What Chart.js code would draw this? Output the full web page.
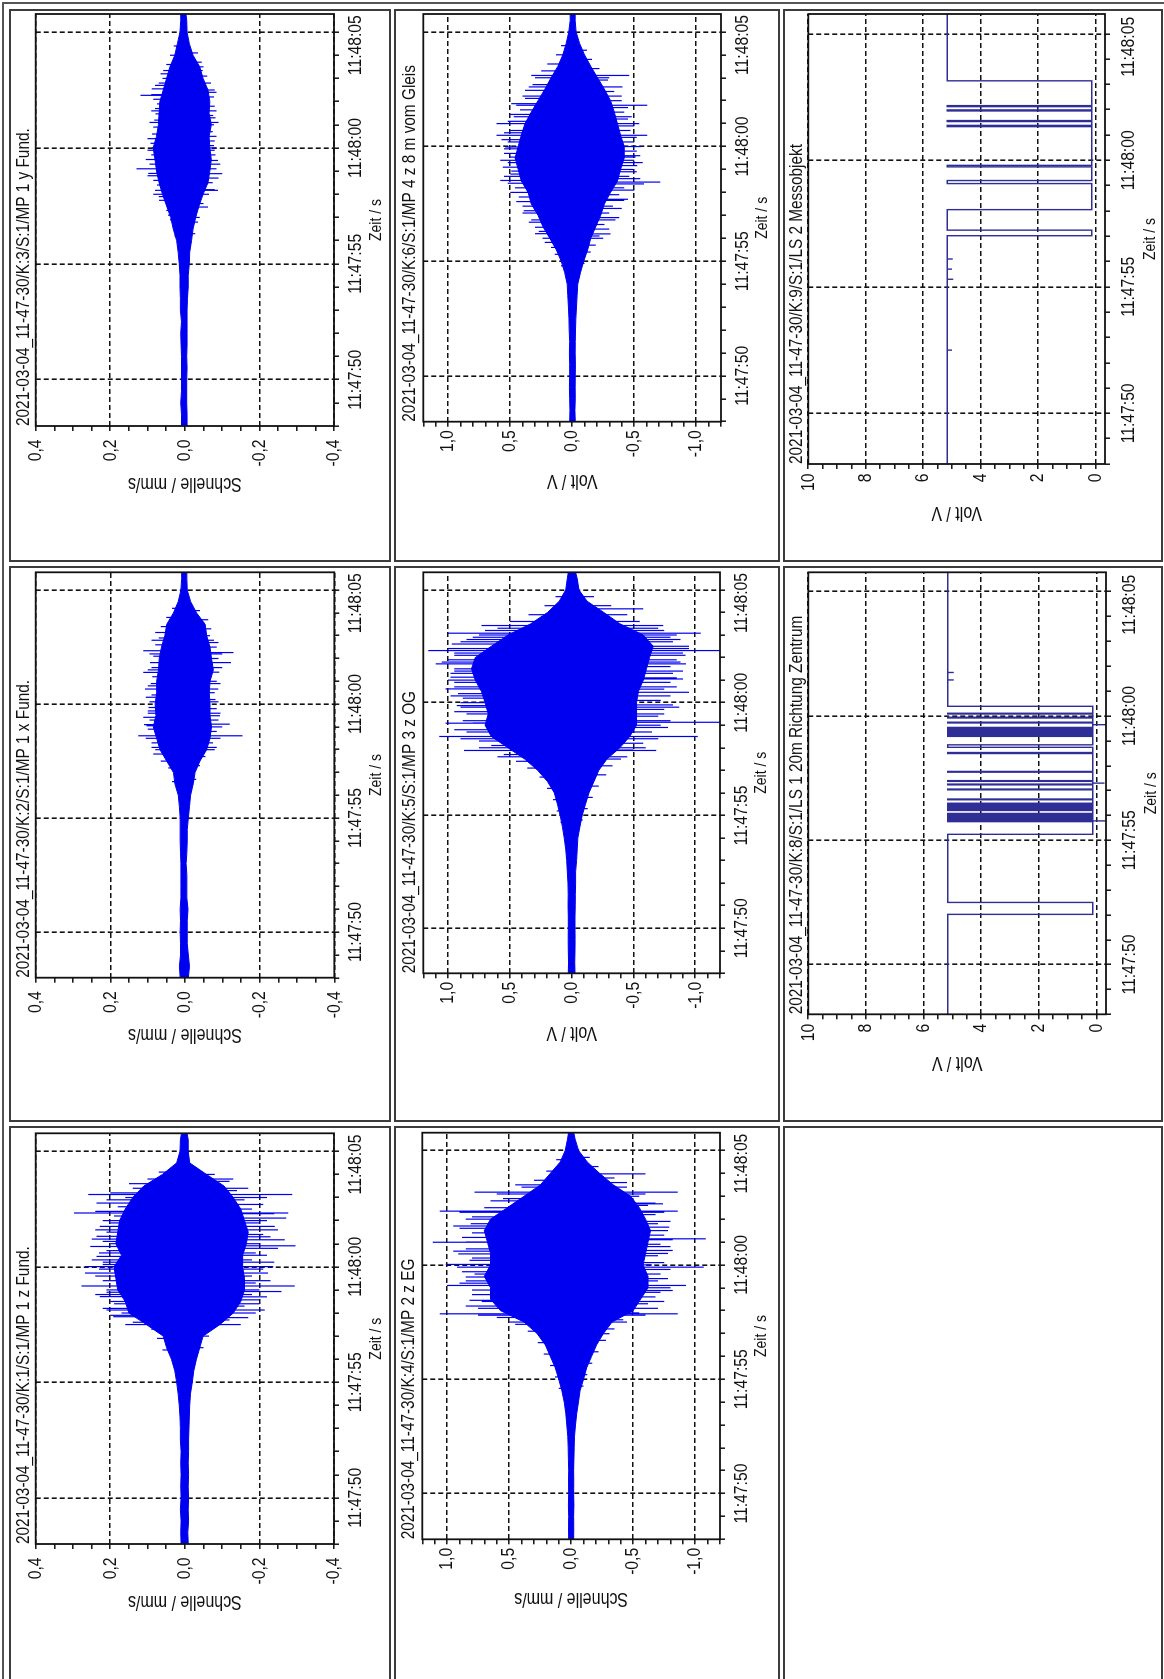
<!DOCTYPE html>
<html>
<head>
<meta charset="utf-8">
<script src="https://cdn.jsdelivr.net/npm/chart.js@4.4.1/dist/chart.umd.min.js"></script>
<style>
    html, body { margin: 0; padding: 0; background: #fff; }
    body { width: 1164px; height: 1679px; position: relative; overflow: hidden; }
    .frame { position: absolute; left: 2px; top: 2px; width: 1180px; height: 1700px;
             border-left: 2px solid #555; border-top: 2px solid #555; }
    .cell { position: absolute; box-sizing: border-box; border: 2px solid #3c3c3c; overflow: hidden; }
    .cell canvas { position: absolute; left: 0; top: 0; transform-origin: 0 0; }
</style>
</head>
<body>
<div class="frame"></div>
<script>
// ===============================
// AXIS TICKS
// ===============================

// seconds after 11:47:30 (start of the recording)
const timeTickValues = [20, 25, 30, 35];
const timeTickLabels = ['11:47:50', '11:47:55', '11:48:00', '11:48:05'];

const mmsTickValues = [0.4, 0.2, 0, -0.2, -0.4];
const mmsTickLabels = ['0,4', '0,2', '0,0', '-0,2', '-0,4'];

const wideTickValues = [1, 0.5, 0, -0.5, -1];
const wideTickLabels = ['1,0', '0,5', '0,0', '-0,5', '-1,0'];

const lsTickValues = [10, 8, 6, 4, 2, 0];
const lsTickLabels = ['10', '8', '6', '4', '2', '0'];

// ===============================
// ENVELOPES
// ===============================

const envTime = [18, 18.5, 19, 19.5, 20, 20.5, 21, 21.5, 22, 22.5, 23, 23.5, 24, 24.5,
    25, 25.5, 26, 26.5, 27, 27.5, 28, 28.5, 29, 29.5, 30, 30.5, 31, 31.5, 32, 32.5,
    33, 33.5, 34, 34.5, 35, 35.5, 35.78];

// K:3  MP 1 y Fund.
const ch3Upper = [.009, .009, .011, .009, .009, .009, .009, .010, .011, .009, .012, .012, .013, .013,
    .015, .018, .022, .031, .038, .049, .060, .069, .076, .080, .085, .076, .071, .069, .067, .058,
    .049, .040, .027, .020, .013, .011, .011];
const ch3Lower = [-.006, -.006, -.005, -.005, -.005, -.006, -.005, -.006, -.006, -.006, -.006, -.007, -.009, -.009,
    -.012, -.013, -.018, -.022, -.029, -.038, -.049, -.062, -.067, -.071, -.067, -.065, -.071, -.065, -.067, -.062,
    -.049, -.040, -.022, -.012, -.006, -.005, -.003];
const ch3SpikeTime = [32.27, 32.55, 33.34, 29.1, 30.0, 28.9, 28.17, 27.74, 30.9, 31.47, 29.7, 31.9, 33.0, 27.1,
    26.2, 26.9, 27.3, 27.9, 28.4, 28.6, 29.3, 29.9, 30.2, 30.6, 31.2, 31.7, 32.1, 32.8, 33.2, 33.6, 34.0, 34.4,
    28.0, 28.8, 29.5, 30.4, 31.1, 31.6, 32.3, 32.7,
    28.89, 29.46, 31.4, 32.5, 28.17, 33.34, 27.45, 30.3, 29.9, 31.0, 33.7, 26.8,
    26.3, 27.0, 27.6, 28.0, 28.5, 29.1, 29.7, 30.1, 30.7, 31.3, 31.8, 32.2, 32.8, 33.1, 33.5, 34.1,
    28.2, 28.7, 29.3, 30.0, 30.5, 31.1, 31.6, 32.4];
const ch3SpikeValue = [.119, .089, .058, .13, .089, .098, .08, .069, .085, .079, .09, .075, .06, .045,
    .028, .04, .05, .07, .075, .085, .095, .1, .092, .088, .082, .08, .085, .07, .065, .05, .04, .03,
    .085, .1, .105, .1, .095, .09, .09, .08,
    -.10, -.089, -.076, -.08, -.089, -.048, -.062, -.08, -.08, -.078, -.045, -.035,
    -.028, -.04, -.05, -.065, -.075, -.085, -.082, -.078, -.075, -.082, -.08, -.078, -.07, -.06, -.05, -.035,
    -.08, -.09, -.095, -.085, -.085, -.09, -.085, -.085];

// K:6  MP 4 z 8 m vom Gleis
const ch6Upper = [.020, .018, .020, .022, .020, .020, .022, .020, .024, .026, .030, .035, .040, .060,
    .088, .128, .180, .235, .275, .330, .355, .410, .435, .460, .435, .410, .380, .330, .275, .220,
    .170, .115, .075, .048, .027, .016, .016];
const ch6Lower = [-.025, -.022, -.025, -.024, -.025, -.026, -.024, -.025, -.027, -.030, -.035, -.040, -.045, -.067,
    -.093, -.125, -.150, -.190, -.230, -.260, -.310, -.365, -.390, -.420, -.420, -.390, -.365, -.340, -.310, -.260,
    -.205, -.150, -.100, -.060, -.032, -.024, -.024];
const ch6SpikeTime = [31.0, 30.49, 28.52, 28.93, 29.54, 31.87, 33.1, 32.45, 27.2, 26.48, 25.82, 29.98,
    24.8, 25.3, 25.6, 26.0, 26.3, 26.8, 27.4, 27.8, 28.2, 28.8, 29.3, 29.7, 30.2, 30.7, 31.3, 31.6, 32.1,
    32.7, 33.3, 33.6, 34.0, 34.4,
    26.2, 26.7, 27.1, 27.6, 28.0, 28.4, 28.7, 29.1, 29.4, 29.9, 30.3, 30.6, 31.1, 31.4, 31.8, 32.2, 32.6, 33.0,
    28.45, 28.37, 29.17, 30.49, 31.8, 31.0, 33.1, 32.6, 26.9, 27.65, 26.19, 29.54,
    24.9, 25.4, 25.7, 26.1, 26.6, 27.1, 27.4, 27.9, 28.2, 28.7, 29.0, 29.4, 29.8, 30.2, 30.7, 31.2, 31.5,
    32.0, 32.4, 32.9, 33.4, 33.8, 34.2,
    26.0, 26.4, 26.8, 27.3, 27.7, 28.1, 28.6, 28.9, 29.3, 29.6, 30.0, 30.4, 30.9, 31.3, 31.7, 32.2, 32.6, 33.0];
const ch6SpikeValue = [.61, .61, .58, .49, .51, .49, .33, .38, .39, .30, .22, .54,
    .09, .14, .17, .24, .27, .33, .40, .43, .46, .50, .52, .55, .52, .50, .47, .42, .38,
    .32, .25, .20, .13, .09,
    .3, .35, .4, .45, .5, .52, .55, .56, .58, .55, .57, .55, .52, .5, .45, .4, .35, .3,
    -.71, -.58, -.525, -.605, -.605, -.54, -.46, -.405, -.38, -.42, -.31, -.51,
    -.10, -.15, -.19, -.22, -.26, -.30, -.33, -.38, -.42, -.46, -.49, -.50, -.52, -.50, -.47, -.45, -.42,
    -.40, -.34, -.29, -.22, -.16, -.12,
    -.25, -.3, -.35, -.4, -.45, -.5, -.55, -.52, -.57, -.55, -.56, -.52, -.5, -.48, -.45, -.4, -.35, -.3];

// K:2  MP 1 x Fund.
const ch2Upper = [.013, .015, .012, .012, .013, .012, .013, .011, .011, .011, .011, .012, .013, .013,
    .013, .015, .018, .027, .031, .049, .067, .076, .085, .078, .080, .076, .076, .071, .069, .063,
    .054, .049, .031, .018, .011, .009, .009];
const ch2Lower = [-.009, -.012, -.009, -.006, -.006, -.006, -.008, -.005, -.005, -.005, -.003, -.005, -.006, -.006,
    -.009, -.012, -.015, -.022, -.027, -.040, -.058, -.067, -.071, -.067, -.067, -.065, -.067, -.076, -.071, -.067,
    -.058, -.054, -.031, -.015, -.006, -.005, -.005];
const ch2SpikeTime = [28.61, 32.34, 31.39, 29.85, 30.66, 29.42, 31.82, 33.14, 27.81, 29.05,
    26.6, 27.2, 27.5, 28.0, 28.3, 28.9, 29.3, 29.7, 30.1, 30.4, 30.9, 31.2, 31.6, 32.1, 32.6, 32.9, 33.4, 33.8, 34.2,
    28.1, 28.5, 29.1, 29.6, 30.3, 30.8, 31.5, 32.2, 32.8,
    28.61, 32.26, 31.82, 29.12, 29.49, 33.0, 28.1, 30.66,
    26.7, 27.3, 27.7, 28.3, 28.8, 29.3, 29.8, 30.2, 30.5, 31.0, 31.4, 32.0, 32.5, 32.8, 33.3, 33.7, 34.1,
    28.0, 28.5, 29.0, 29.6, 30.1, 30.9, 31.6, 32.2, 32.7];
const ch2SpikeValue = [.125, .112, .112, .098, .107, .112, .094, .08, .085, .103,
    .035, .045, .065, .08, .09, .1, .095, .1, .095, .09, .092, .088, .09, .085, .08, .07, .065, .05, .035,
    .09, .105, .11, .1, .105, .1, .1, .095, .09,
    -.154, -.13, -.123, -.12, -.094, -.067, -.085, -.089,
    -.03, -.04, -.055, -.075, -.085, -.09, -.085, -.082, -.08, -.085, -.092, -.09, -.085, -.078, -.07, -.062, -.04,
    -.08, -.095, -.1, -.095, -.09, -.095, -.1, -.1, -.09];

// K:5  MP 3 z OG
const ch5Upper = [.027, .025, .027, .028, .027, .027, .029, .028, .030, .035, .040, .048, .060, .075,
    .093, .115, .140, .195, .275, .380, .515, .650, .700, .675, .700, .730, .780, .810, .780, .650,
    .515, .330, .195, .100, .048, .035, .027];
const ch5Lower = [-.027, -.025, -.027, -.028, -.027, -.027, -.029, -.030, -.032, -.032, -.040, -.045, -.050, -.067,
    -.085, -.112, -.140, -.180, -.220, -.285, -.390, -.470, -.525, -.525, -.525, -.540, -.580, -.605, -.630, -.660,
    -.580, -.390, -.260, -.125, -.059, -.045, -.032];
const ch5SpikeTime = [32.31, 31.72, 33.08, 30.61, 29.09, 28.5, 31.13, 29.87, 32.6, 27.88, 33.42,
    24.7, 25.2, 25.7, 26.2, 26.7, 27.1, 27.4, 27.7, 28.1, 28.3, 28.7, 29.2, 29.5, 29.8, 30.2, 30.4, 30.9,
    31.3, 31.5, 31.9, 32.1, 32.7, 32.9, 33.2, 33.6, 33.9, 34.3, 34.7,
    27.6, 28.0, 28.4, 28.8, 29.1, 29.6, 30.0, 30.3, 30.7, 31.0, 31.4, 31.8, 32.2, 32.4, 32.8, 33.0, 33.3,
    32.31, 29.13, 33.08, 28.5, 32.5, 31.72, 30.46, 31.05, 29.8, 33.42, 27.88, 34.16,
    24.8, 25.3, 25.8, 26.3, 26.8, 27.2, 27.5, 27.9, 28.2, 28.7, 29.0, 29.4, 29.7, 30.1, 30.6, 30.9,
    31.3, 31.6, 31.9, 32.2, 32.7, 32.9, 33.2, 33.6, 33.9, 34.3, 34.7,
    27.6, 28.0, 28.4, 28.9, 29.2, 29.5, 29.9, 30.3, 30.7, 31.1, 31.4, 31.8, 32.1, 32.4, 32.8, 33.0, 33.3];
const ch5SpikeValue = [1.16, 1.10, 1.0, 1.02, 1.02, 1.07, .98, .93, .97, .87, .73,
    .09, .12, .15, .2, .26, .36, .45, .55, .65, .75, .85, .88, .85, .9, .88, .92, .95,
    .98, .95, 1.0, .95, .9, .8, .7, .5, .35, .22, .13,
    .6, .75, .9, .95, .8, .95, .9, .98, .95, 1.0, .95, 1.05, .95, 1.0, .85, .75, .6,
    -1.2, -1.2, -1.045, -1.02, -.95, -.925, -.95, -.9, -.87, -.74, -.685, -.58,
    -.09, -.13, -.17, -.22, -.28, -.33, -.4, -.5, -.58, -.65, -.72, -.7, -.75, -.72, -.75, -.8,
    -.82, -.8, -.85, -.9, -.82, -.8, -.75, -.55, -.45, -.32, -.18,
    -.45, -.6, -.7, -.78, -.8, -.75, -.82, -.8, -.85, -.85, -.9, -.88, -.92, -.95, -.88, -.85, -.7];

// K:1  MP 1 z Fund.
const ch1Upper = [.010, .011, .010, .012, .010, .011, .010, .011, .010, .012, .012, .013, .015, .018,
    .022, .027, .036, .049, .058, .103, .150, .160, .180, .185, .190, .170, .185, .180, .175, .160,
    .140, .110, .060, .022, .013, .012, .009];
const ch1Lower = [-.009, -.008, -.010, -.009, -.010, -.009, -.010, -.009, -.010, -.010, -.011, -.012, -.013, -.015,
    -.020, -.024, -.031, -.040, -.049, -.094, -.130, -.150, -.160, -.160, -.155, -.155, -.165, -.170, -.160, -.150,
    -.130, -.105, -.058, -.013, -.009, -.009, -.006];
const ch1SpikeTime = [32.33, 33.13, 30.88, 30.01, 29.73, 29.17, 32.76, 31.32, 30.45, 28.71, 28.13, 27.84, 31.75,
    26.4, 26.9, 27.3, 27.6, 28.0, 28.4, 28.9, 29.4, 29.9, 30.2, 30.7, 31.1, 31.5, 31.9, 32.2, 32.6, 33.0,
    33.4, 33.8, 34.1,
    27.5, 27.9, 28.2, 28.5, 28.8, 29.0, 29.6, 30.1, 30.3, 30.6, 31.0, 31.2, 31.6, 32.0, 32.4, 32.9, 33.2, 33.6,
    33.13, 32.33, 32.11, 30.91, 29.17, 28.93, 31.17, 31.75, 30.01, 28.13, 28.57, 29.73,
    26.5, 27.0, 27.4, 27.7, 28.3, 28.8, 29.3, 29.6, 30.3, 30.6, 31.0, 31.4, 31.9, 32.5, 32.9, 33.3, 33.7, 34.0,
    27.5, 27.8, 28.0, 28.4, 28.7, 29.0, 29.4, 29.9, 30.2, 30.5, 30.8, 31.3, 31.6, 32.0, 32.3, 32.7, 33.0, 33.4, 33.8];
const ch1SpikeValue = [.297, .259, .254, .268, .268, .277, .237, .237, .237, .228, .21, .192, .228,
    .06, .075, .09, .14, .17, .19, .21, .22, .23, .22, .21, .22, .21, .2, .19, .18, .16,
    .14, .1, .07,
    .16, .2, .22, .2, .24, .21, .24, .22, .25, .23, .2, .25, .24, .22, .24, .21, .2, .15,
    -.288, -.277, -.272, -.297, -.295, -.259, -.268, -.241, -.237, -.214, -.2, -.223,
    -.05, -.065, -.08, -.12, -.16, -.18, -.19, -.18, -.18, -.19, -.2, -.21, -.2, -.18, -.16, -.14, -.12, -.08,
    -.15, -.17, -.19, -.2, -.22, -.2, -.23, -.21, -.24, -.22, -.25, -.23, -.25, -.22, -.24, -.21, -.22, -.17, -.13];

// K:4  MP 2 z EG
const ch4Upper = [.020, .021, .020, .022, .020, .021, .020, .022, .024, .027, .035, .043, .056, .075,
    .100, .128, .168, .208, .275, .380, .570, .650, .650, .700, .650, .650, .675, .700, .650, .515,
    .380, .248, .168, .088, .048, .029, .021];
const ch4Lower = [-.020, -.021, -.020, -.022, -.020, -.021, -.020, -.022, -.024, -.027, -.035, -.045, -.059, -.072,
    -.100, -.125, -.165, -.205, -.260, -.330, -.500, -.560, -.620, -.620, -.580, -.600, -.620, -.640, -.600, -.550,
    -.480, -.340, -.230, -.130, -.060, -.032, -.021];
const ch4SpikeTime = [30.99, 32.35, 30.02, 27.86, 29.1, 33.18, 31.8, 28.45, 29.47, 30.48,
    24.6, 25.1, 25.6, 26.1, 26.6, 27.1, 27.4, 27.7, 28.1, 28.7, 29.3, 29.7, 30.2, 30.7, 31.2, 31.6, 32.0,
    32.5, 32.9, 33.4, 33.7, 34.1, 34.6,
    27.5, 27.8, 28.2, 28.4, 28.9, 29.2, 29.6, 29.9, 30.3, 30.6, 31.0, 31.4, 31.7, 32.1, 32.3, 32.8, 33.1, 33.5,
    31.14, 29.9, 33.18, 32.35, 29.1, 27.86, 31.65, 28.88, 30.63, 32.67, 33.98, 26.99,
    24.7, 25.2, 25.7, 26.2, 26.7, 27.2, 27.6, 27.9, 28.3, 28.6, 29.3, 29.6, 30.0, 30.4, 30.9, 31.3, 31.8,
    32.2, 32.6, 33.0, 33.4, 33.8, 34.3, 34.7,
    27.5, 27.8, 28.1, 28.4, 28.8, 29.0, 29.4, 29.8, 30.1, 30.5, 30.8, 31.1, 31.5, 31.9, 32.3, 32.7, 33.1, 33.6];
const ch4SpikeValue = [1.115, 1.06, 1.01, 1.06, 1.0, .78, .81, .82, .85, .91,
    .1, .13, .17, .22, .27, .35, .45, .6, .75, .8, .85, .88, .82, .85, .88, .9, .85,
    .7, .55, .4, .3, .2, .12,
    .5, .75, .85, .72, .8, .9, .78, .92, .8, .95, .85, .8, .95, .8, .9, .65, .6, .45,
    -1.085, -1.07, -.86, -.86, -.925, -.86, -.79, -.82, -.82, -.74, -.6, -.31,
    -.1, -.13, -.17, -.22, -.28, -.35, -.42, -.55, -.62, -.68, -.7, -.72, -.65, -.7, -.72, -.75, -.7,
    -.68, -.62, -.55, -.45, -.35, -.22, -.15,
    -.45, -.6, -.7, -.75, -.72, -.8, -.78, -.8, -.75, -.78, -.8, -.82, -.78, -.8, -.75, -.68, -.6, -.45];

// ===============================
// LIGHT BARRIERS (level after each time)
// ===============================

// K:9  LS 2 Messobjekt
const ch9Time = [18, 22.5, 22.5, 25.3, 25.3, 25.7, 25.7, 26.1, 26.1, 27.02, 27.24, 28.05, 29.08, 29.20,
    29.74, 29.80, 31.33, 31.38, 31.53, 31.57, 31.95, 31.99, 32.12, 32.16, 33.14, 35.78];
const ch9Level = [5.16, 5.0, 5.16, 4.95, 5.16, 5.0, 5.16, 4.97, 5.16, 0.13, 5.16, 0.13, 5.16, 0.13,
    5.16, 0.13, 5.16, 0.13, 5.16, 0.13, 5.16, 0.13, 5.16, 0.13, 5.16, 5.16];

// K:8  LS 1 20m Richtung Zentrum
const ch8Time = [18, 22.02, 22.5, 25.24, 25.75, 25.78, 25.78, 25.78, 25.81, 25.84, 25.87, 25.90, 25.93, 25.96,
    25.99, 26.02, 26.05, 26.08, 26.20, 26.23, 26.26, 26.29, 26.32, 26.35, 26.38, 26.41, 26.44, 26.49,
    26.63, 26.66, 27.03, 27.06, 27.23, 27.26, 27.30, 27.30, 27.37, 27.40, 27.74, 27.77, 28.49, 28.53,
    28.74, 28.84, 29.18, 29.22, 29.26, 29.30, 29.34, 29.38, 29.42, 29.46, 29.50, 29.54, 29.65, 29.65,
    29.72, 29.75, 29.92, 29.95, 30.08, 30.11, 30.39, 31.45, 31.45, 31.75, 31.75, 35.78];
const ch8Level = [5.16, 0.13, 5.16, 0.13, 5.16, 0.13, -0.34, 0.13, 5.16, 0.13, 5.16, 0.13, 5.16, 0.13,
    5.16, 0.13, 5.16, 0.13, 5.16, 0.13, 5.16, 0.13, 5.16, 0.13, 5.16, 0.13, 5.16, 0.13,
    5.16, 0.13, 5.16, 0.13, 5.16, 0.13, -0.28, 0.13, 5.16, 0.13, 5.16, 0.13, 5.16, 0.13,
    5.16, 0.13, 5.16, 0.13, 5.16, 0.13, 5.16, 0.13, 5.16, 0.13, 5.16, 0.13, -0.37, 0.13,
    5.16, 0.13, 5.16, 0.13, 5.16, 0.13, 5.16, 4.95, 5.16, 4.95, 5.16, 5.16];

// ===============================
// PAGE LAYOUT
// ===============================

const ink = '#111111';
const traceBlue = '#0000f0';
const barrierBlue = '#2e2e96';

// the picture uses a narrow Arial; Liberation Sans is drawn squeezed to match
const fontFamily = '"Liberation Sans", Arial, sans-serif';
const textSqueeze = 0.82;
Chart.defaults.font.family = fontFamily;

// font size that gives a (squeezed) text the width it has in the picture
function sizeForWidth(text, width) {
    const c = document.createElement('canvas').getContext('2d');
    c.font = '100px ' + fontFamily;
    return 100 * width / (c.measureText(text).width * textSqueeze);
}

const titleSize = sizeForWidth('2021-03-04_11-47-30/K:3/S:1/MP 1 y Fund.', 298);
const tickSize = sizeForWidth('11:47:50', 60);
const xTitleSize = sizeForWidth('Zeit / s', 42);
const yTitleSize = sizeForWidth('Schnelle / mm/s', 114);

function squeezeText(ctx) {
    const fill = ctx.fillText.bind(ctx);
    ctx.fillText = function (text, x, y, maxWidth) {
        ctx.save();
        ctx.translate(x, y);
        ctx.scale(textSqueeze, 1);
        if (maxWidth === undefined) {
            fill(text, 0, 0);
        } else {
            fill(text, 0, 0, maxWidth / textSqueeze);
        }
        ctx.restore();
    };
}

const axisKinds = {
    mms: { min: -0.4, max: 0.4, step: 0.05, values: mmsTickValues, labels: mmsTickLabels },
    wide: { min: -1.2, max: 1.2, step: 0.1, values: wideTickValues, labels: wideTickLabels },
    ls: { min: -0.33, max: 10, step: 0.5, values: lsTickValues, labels: lsTickLabels }
};

// distances (px) from the plot edge to labels / axis titles, per column
const columnGaps = [
    { tickT: 21.7, titleT: 42, tickA: 13.5, titleA: 57 },
    { tickT: 22, titleT: 41.7, tickA: 8.5, titleA: 59 },
    { tickT: 24, titleT: 45, tickA: 9.5, titleA: 48 }
];

// cell = [left, top, width, height], plot = [left, right, top, bottom] on the page
const panels = [
    { title: '2021-03-04_11-47-30/K:3/S:1/MP 1 y Fund.', yTitle: 'Schnelle / mm/s', axis: 'mms', col: 0,
      cell: [9, 9, 382, 553], plot: [35.7, 334, 14, 426],
      upper: ch3Upper, lower: ch3Lower, spikeTime: ch3SpikeTime, spikeValue: ch3SpikeValue },
    { title: '2021-03-04_11-47-30/K:6/S:1/MP 4 z 8 m vom Gleis', yTitle: 'Volt / V', axis: 'wide', col: 1,
      cell: [394, 9, 386, 553], plot: [423.3, 721, 14, 421.7],
      upper: ch6Upper, lower: ch6Lower, spikeTime: ch6SpikeTime, spikeValue: ch6SpikeValue },
    { title: '2021-03-04_11-47-30/K:9/S:1/LS 2 Messobjekt', yTitle: 'Volt / V', axis: 'ls', col: 2,
      cell: [783, 9, 380, 553], plot: [808.3, 1105, 14, 464],
      stepTime: ch9Time, stepLevel: ch9Level },
    { title: '2021-03-04_11-47-30/K:2/S:1/MP 1 x Fund.', yTitle: 'Schnelle / mm/s', axis: 'mms', col: 0,
      cell: [9, 566, 382, 556], plot: [35.7, 334.3, 572.3, 977.7],
      upper: ch2Upper, lower: ch2Lower, spikeTime: ch2SpikeTime, spikeValue: ch2SpikeValue },
    { title: '2021-03-04_11-47-30/K:5/S:1/MP 3 z OG', yTitle: 'Volt / V', axis: 'wide', col: 1,
      cell: [394, 566, 386, 556], plot: [423.3, 720, 572.3, 973.3],
      upper: ch5Upper, lower: ch5Lower, spikeTime: ch5SpikeTime, spikeValue: ch5SpikeValue },
    { title: '2021-03-04_11-47-30/K:8/S:1/LS 1 20m Richtung Zentrum', yTitle: 'Volt / V', axis: 'ls', col: 2,
      cell: [783, 566, 380, 556], plot: [808.3, 1106, 572.3, 1014.3],
      stepTime: ch8Time, stepLevel: ch8Level },
    { title: '2021-03-04_11-47-30/K:1/S:1/MP 1 z Fund.', yTitle: 'Schnelle / mm/s', axis: 'mms', col: 0,
      cell: [9, 1126, 382, 560], plot: [35.7, 334, 1133.3, 1544],
      upper: ch1Upper, lower: ch1Lower, spikeTime: ch1SpikeTime, spikeValue: ch1SpikeValue },
    { title: '2021-03-04_11-47-30/K:4/S:1/MP 2 z EG', yTitle: 'Schnelle / mm/s', axis: 'wide', col: 1,
      cell: [394, 1126, 386, 560], plot: [422.3, 720, 1132.7, 1539.3],
      upper: ch4Upper, lower: ch4Lower, spikeTime: ch4SpikeTime, spikeValue: ch4SpikeValue }
];

const emptyCell = [783, 1126, 380, 560];

// ===============================
// HELPERS
// ===============================

function labelFor(values, labels, v) {
    const i = values.findIndex(x => Math.abs(x - v) < 1e-6);
    return i < 0 ? '' : labels[i];
}

// the last time label sits a little inside the plot, as in the picture
function timeLabel(v) {
    const text = labelFor(timeTickValues, timeTickLabels, v);
    return text === timeTickLabels[timeTickLabels.length - 1] ? text + '      ' : text;
}

function addCell(box) {
    const div = document.createElement('div');
    div.className = 'cell';
    div.style.left = box[0] + 'px';
    div.style.top = box[1] + 'px';
    div.style.width = box[2] + 'px';
    div.style.height = box[3] + 'px';
    document.body.appendChild(div);
    return div;
}

// frame around the plot area (all four sides)
const plotFrame = {
    id: 'plotFrame',
    afterDatasetsDraw(chart) {
        const { ctx, chartArea: a } = chart;
        ctx.save();
        ctx.strokeStyle = ink;
        ctx.lineWidth = 1.8;
        ctx.strokeRect(a.left, a.top, a.right - a.left, a.bottom - a.top);
        ctx.restore();
    }
};

// ===============================
// CHARTS (drawn upright, turned a quarter left)
// ===============================

function buildPanel(p) {
    const div = addCell(p.cell);
    const ix = p.cell[0] + 2, iy = p.cell[1] + 2;
    const iw = p.cell[2] - 4, ih = p.cell[3] - 4;
    const W = ih, H = iw;

    const area = {
        left: ih - (p.plot[3] - iy),
        right: ih - (p.plot[2] - iy),
        top: p.plot[0] - ix,
        bottom: p.plot[1] - ix
    };
    const gap = columnGaps[p.col];
    const kind = axisKinds[p.axis];

    const canvas = document.createElement('canvas');
    canvas.width = W;
    canvas.height = H;
    canvas.style.width = W + 'px';
    canvas.style.height = H + 'px';
    canvas.style.transform = 'translateY(' + W + 'px) rotate(-90deg)';
    div.appendChild(canvas);
    squeezeText(canvas.getContext('2d'));

    let datasets;
    if (p.stepTime) {
        datasets = [{
            data: p.stepTime.map((t, i) => ({ x: t, y: p.stepLevel[i] })),
            stepped: true,
            borderColor: barrierBlue,
            borderWidth: 1.4,
            pointRadius: 0,
            fill: false
        }];
    } else {
        const spikes = [];
        p.spikeTime.forEach((t, i) => {
            spikes.push({ x: t, y: 0 }, { x: t, y: p.spikeValue[i] }, { x: t, y: null });
        });
        datasets = [
            {
                data: p.upper.map((v, i) => ({ x: envTime[i], y: v })),
                borderColor: traceBlue,
                backgroundColor: traceBlue,
                borderWidth: 1,
                pointRadius: 0,
                fill: '+1'
            },
            {
                data: p.lower.map((v, i) => ({ x: envTime[i], y: v })),
                borderColor: traceBlue,
                borderWidth: 1,
                pointRadius: 0,
                fill: false
            },
            {
                data: spikes,
                borderColor: traceBlue,
                borderWidth: 1.2,
                pointRadius: 0,
                fill: false,
                spanGaps: false
            }
        ];
    }

    new Chart(canvas, {
        type: 'line',
        data: { datasets: datasets },
        options: {
            responsive: false,
            animation: false,
            devicePixelRatio: 1,
            events: [],
            layout: {
                padding: { left: 0, top: 0, bottom: 0, right: W - area.right }
            },
            plugins: {
                legend: { display: false },
                tooltip: { enabled: false },
                title: {
                    display: true,
                    text: p.title,
                    align: 'start',
                    fullSize: false,
                    color: ink,
                    font: { size: titleSize, weight: 'normal', lineHeight: 1 },
                    padding: { top: (area.top - titleSize) / 2, bottom: (area.top - titleSize) / 2 }
                }
            },
            scales: {
                x: {
                    type: 'linear',
                    min: 18,
                    max: 35.78,
                    offset: false,
                    afterFit: s => {
                        s.height = H - area.bottom;
                        s.paddingLeft = 0;
                        s.paddingRight = 0;
                    },
                    ticks: {
                        stepSize: 1,
                        includeBounds: false,
                        autoSkip: false,
                        maxRotation: 0,
                        minRotation: 0,
                        padding: gap.tickT - 5 - tickSize * 0.6,
                        color: ink,
                        font: { size: tickSize, lineHeight: 1.2 },
                        callback: v => timeLabel(v)
                    },
                    grid: {
                        color: c => (c.tick && labelFor(timeTickValues, timeTickLabels, c.tick.value)) ? ink : 'rgba(0,0,0,0)',
                        lineWidth: 1.6,
                        drawTicks: true,
                        tickLength: 5,
                        tickWidth: 1.5,
                        tickColor: ink,
                        tickBorderDash: []
                    },
                    border: { display: false, dash: [5, 3] },
                    title: {
                        display: true,
                        text: 'Zeit / s',
                        color: ink,
                        font: { size: xTitleSize, lineHeight: 1 },
                        padding: { top: 0, bottom: H - area.bottom - gap.titleT - xTitleSize / 2 }
                    }
                },
                y: {
                    type: 'linear',
                    min: kind.min,
                    max: kind.max,
                    afterFit: s => {
                        s.width = area.left;
                        s.paddingTop = 0;
                        s.paddingBottom = 0;
                    },
                    ticks: {
                        stepSize: kind.step,
                        includeBounds: false,
                        autoSkip: false,
                        padding: gap.tickA - 5,
                        color: ink,
                        font: { size: tickSize, lineHeight: 1.2 },
                        callback: v => labelFor(kind.values, kind.labels, v)
                    },
                    grid: {
                        color: c => (c.tick && labelFor(kind.values, kind.labels, c.tick.value)) ? ink : 'rgba(0,0,0,0)',
                        lineWidth: 1.6,
                        drawTicks: true,
                        tickLength: 5,
                        tickWidth: 1.5,
                        tickColor: ink,
                        tickBorderDash: []
                    },
                    border: { display: false, dash: [5, 3] },
                    title: {
                        display: true,
                        text: p.yTitle,
                        color: ink,
                        font: { size: yTitleSize, lineHeight: 1 },
                        padding: { top: area.left - gap.titleA - yTitleSize / 2, bottom: 0 }
                    }
                }
            }
        },
        plugins: [plotFrame]
    });
}

panels.forEach(buildPanel);
addCell(emptyCell);
</script>
</body>
</html>
